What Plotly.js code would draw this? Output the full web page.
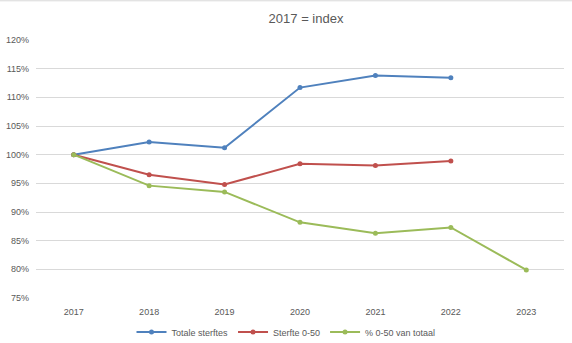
<!DOCTYPE html>
<html>
<head>
<meta charset="utf-8">
<script src="https://cdn.plot.ly/plotly-3.0.1.min.js"></script>
<style>html,body{margin:0;padding:0;background:#fff;}#chart{width:572px;height:343px;}</style>
</head>
<body>
<div id="chart"></div>
<script>
const years = ['2017','2018','2019','2020','2021','2022','2023'];
const totaleSterftes = [100.0, 102.2, 101.2, 111.7, 113.8, 113.4, null];
const sterfte050 = [100.0, 96.5, 94.8, 98.4, 98.1, 98.9, null];
const pct050VanTotaal = [100.0, 94.6, 93.5, 88.2, 86.3, 87.3, 79.9];
const seriesNames = ['Totale sterftes', 'Sterfte 0-50', '% 0-50 van totaal'];
const yTicks = [75, 80, 85, 90, 95, 100, 105, 110, 115, 120];

const colors = ['#4F81BD', '#C0504D', '#9BBB59'];
const data = [totaleSterftes, sterfte050, pct050VanTotaal].map((vals, i) => ({
  type: 'scatter', mode: 'lines+markers', name: seriesNames[i],
  x: years, y: vals, connectgaps: false,
  line: {color: colors[i], width: 2},
  marker: {color: colors[i], size: 5}
}));

const layout = {
  width: 572, height: 343,
  margin: {l: 36, r: 8, t: 40, b: 45, autoexpand: false},
  paper_bgcolor: '#fff', plot_bgcolor: '#fff',
  font: {family: 'Liberation Sans, Arial, sans-serif', size: 9, color: '#595959'},
  title: {text: '2017 = index', font: {size: 13, color: '#595959'}, x: 0.535, xanchor: 'center', y: 0.945, yanchor: 'middle'},
  xaxis: {type: 'category', range: [-0.5, 6.5], showgrid: false, zeroline: false, showline: false, ticks: '', ticklabelstandoff: 7, automargin: false, tickfont: {size: 9, color: '#595959'}},
  yaxis: {range: [75, 120], tickvals: yTicks, ticktext: yTicks.map(v => v + '%'), showgrid: true, gridcolor: '#D9D9D9', gridwidth: 1, zeroline: false, showline: false, ticks: '', ticklabelstandoff: 6, automargin: false, tickfont: {size: 9, color: '#595959'}},
  showlegend: true,
  legend: {orientation: 'h', x: 0.5, xanchor: 'center', xref: 'container', yref: 'container', y: 0.032, yanchor: 'middle', font: {size: 9, color: '#595959'}, itemwidth: 30, tracegroupgap: 0},
  shapes: [{type: 'line', xref: 'paper', yref: 'paper', x0: -0.1, x1: 1.1, y0: 1.152, y1: 1.152, line: {color: '#D9D9D9', width: 1}}]
};
Plotly.newPlot('chart', data, layout, {displayModeBar: false, staticPlot: true});
</script>
</body>
</html>
